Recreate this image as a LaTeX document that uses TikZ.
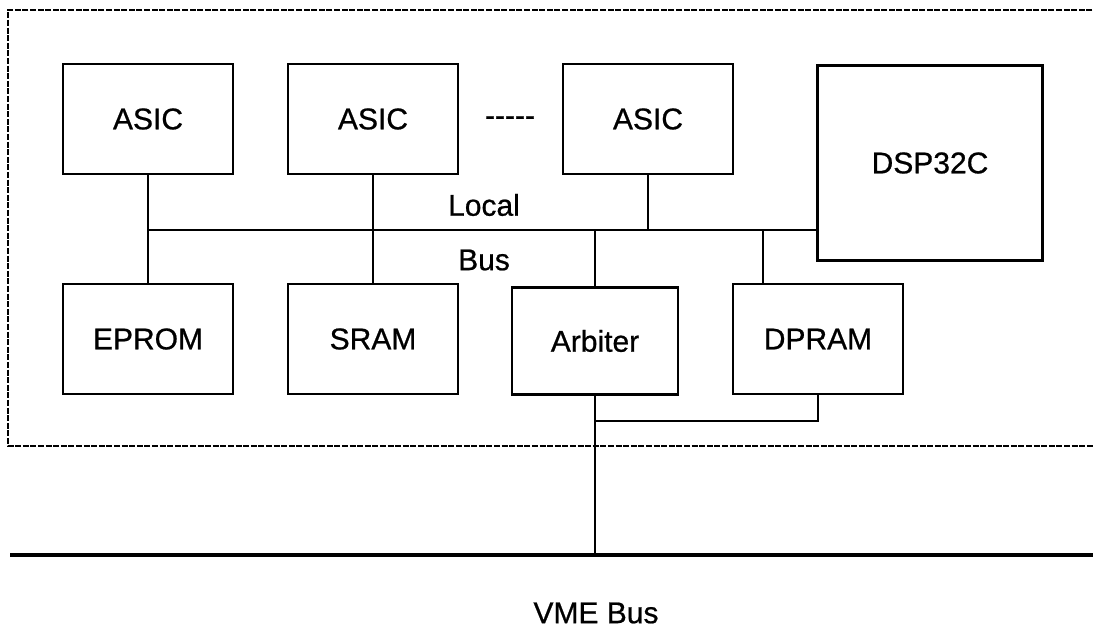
\documentclass[tikz,border=0pt]{standalone}
\usepackage{fontspec}
\setmainfont{Liberation Sans}[BoldFont=Liberation Sans, BoldFeatures={FakeBold=0.7}]
\usetikzlibrary{positioning}

\tikzset{
  unitbox/.style={draw, line width=1.4pt, inner sep=0pt,
    minimum width=85pt, minimum height=55pt},
  busline/.style={line width=1.4pt},
  vmeline/.style={line width=2pt},
  frameline/.style={line width=1pt, dash pattern=on 3pt off 0.8pt},
  lbl/.style={font=\fontsize{15}{17}\selectfont\bfseries}
}

\begin{document}
\begin{tikzpicture}[x=0.5pt,y=-0.5pt,every node/.style={lbl}]
\useasboundingbox (0,0) rectangle (1093,631);
% board outline
\draw[frameline] (1100,10) -- (8,10) -- (8,446) -- (1100,446);
% top row
\node[unitbox] (asicA) at (148,119) {ASIC};
\node[unitbox] (asicB) at (373,119) {ASIC};
\node[unitbox] (asicC) at (648,119) {ASIC};
\node (dots) at (510,121) {-{}-{}-{}-{}-};
\node[unitbox, minimum width=112.5pt, minimum height=97.5pt] (dsp) at (930,163) {DSP32C};
% bottom row
\node[unitbox] (eprom) at (148,339) {EPROM};
\node[unitbox] (sram) at (373,339) {SRAM};
\node[unitbox, minimum width=83pt, minimum height=53.5pt] (arbiter) at (595,341) {Arbiter};
\node[unitbox] (dpram) at (818,339) {DPRAM};
% local bus
\coordinate (lbL) at (148,230);
\coordinate (lbR) at (dsp.west |- lbL);
\coordinate (dpTap) at (763,230);
\draw[busline] (lbL) -- (lbR);
\node (local) at (484,205) {Local};
\node (bus) at (484,260) {Bus};
\draw[busline] (asicA) -- (eprom);
\draw[busline] (asicB) -- (sram);
\draw[busline] (asicC) -- (asicC |- lbL);
\draw[busline] (arbiter) -- (arbiter |- lbL);
\draw[busline] (dpTap) -- (dpTap |- dpram.north);
% VME bus
\coordinate (vmeL) at (10,555);
\coordinate (vmeR) at (1093,555);
\coordinate (join) at (595,421);
\draw[vmeline] (vmeL) -- (vmeR);
\draw[busline] (arbiter) -- (arbiter |- vmeL);
\draw[busline] (dpram) |- (join);
\node (vme) at (596,613) {VME Bus};
\end{tikzpicture}
\end{document}
